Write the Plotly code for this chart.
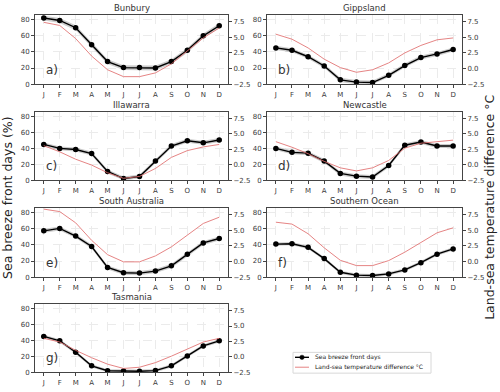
import plotly.graph_objects as go

months = ["J", "F", "M", "A", "M", "J", "J", "A", "S", "O", "N", "D"]
regions = ["Bunbury", "Gippsland", "Illawarra", "Newcastle",
           "South Australia", "Southern Ocean", "Tasmania"]
panel_labels = ["a)", "b)", "c)", "d)", "e)", "f)", "g)"]
legend_names = ["Sea breeze front days", "Land-sea temperature difference \u00b0C"]

# Sea breeze front days (%)
sbf_bunbury = [82, 79, 70, 49, 28, 20.5, 20.5, 20, 28, 42, 60, 72.5]
sbf_gippsland = [45, 42, 34, 22.5, 5.3, 2.5, 2, 11, 23, 33, 37.5, 43]
sbf_illawarra = [45, 40, 38.5, 33.5, 11, 2, 4.5, 24, 43, 49.5, 47, 50.5]
sbf_newcastle = [40, 35, 34, 24, 8.5, 5, 4, 18.5, 44, 48, 43, 43]
sbf_south_australia = [57.5, 60.5, 51, 38, 12, 5.5, 5, 7.5, 14, 28.5, 42.5, 48]
sbf_southern_ocean = [41, 41.5, 37, 23, 6, 2.5, 2, 4, 9, 18, 28.5, 35]
sbf_tasmania = [45, 39.5, 25, 8, 1.8, 1.6, 1.2, 2, 8, 20.5, 33, 39.5]

# Uncertainty half-width of the grey band (%)
sbf_spread = [3.0, 2.5, 2.5, 2.5, 2.5, 2.0, 2.0]

# Land-sea temperature difference (°C)
lst_bunbury = [7.4, 6.9, 4.8, 2.0, -0.2, -1.3, -1.3, -0.7, 0.75, 2.8, 4.9, 6.5]
lst_gippsland = [5.5, 4.7, 3.3, 1.5, 0.15, -0.6, -0.2, 0.9, 2.5, 3.7, 4.6, 4.9]
lst_illawarra = [3.1, 2.1, 0.9, -0.05, -1.3, -2.2, -1.9, -0.6, 1.2, 2.3, 2.9, 3.3]
lst_newcastle = [3.75, 2.85, 1.8, 0.55, -0.5, -1.0, -0.5, 0.7, 2.7, 3.5, 3.75, 4.0]
lst_south_australia = [8.4, 8.0, 6.2, 3.4, 1.1, -0.05, -0.05, 0.9, 2.35, 4.2, 6.1, 7.1]
lst_southern_ocean = [6.3, 6.0, 4.45, 2.2, 0.2, -0.65, -0.65, 0.15, 1.5, 3.1, 4.6, 5.4]
lst_tasmania = [3.0, 2.4, 1.05, -0.15, -1.2, -1.9, -1.7, -0.95, 0.1, 1.3, 2.4, 3.0]

sbf_all = [sbf_bunbury, sbf_gippsland, sbf_illawarra, sbf_newcastle,
           sbf_south_australia, sbf_southern_ocean, sbf_tasmania]
lst_all = [lst_bunbury, lst_gippsland, lst_illawarra, lst_newcastle,
           lst_south_australia, lst_southern_ocean, lst_tasmania]

left_ticks = [0, 20, 40, 60, 80]
right_ticks = [-2.5, 0.0, 2.5, 5.0, 7.5]
right_ticktext = ["\u22122.5", "0.0", "2.5", "5.0", "7.5"]

W, H = 500, 392
col_px = [(35, 228), (267, 462)]
row_px = [(15, 85), (113, 182), (210, 280), (307, 376)]

FONT = "DejaVu Sans"
GRID = "#ebebeb"
FRAME = "#444444"
TXT = "#3a3a3a"
RED = "rgba(225,110,110,0.85)"

fig = go.Figure()
layout = dict(
    width=W, height=H,
    margin=dict(l=0, r=0, t=0, b=0),
    paper_bgcolor="white", plot_bgcolor="white",
    font=dict(family=FONT, color=TXT, size=7),
    showlegend=False,
)
annotations = []
shapes = []
x = list(range(12))

for i in range(7):
    r, c = divmod(i, 2)
    n = i + 1
    xa = "x" if n == 1 else f"x{n}"
    yl_n = 2 * i + 1
    yr_n = 2 * i + 2
    yl = "y" if yl_n == 1 else f"y{yl_n}"
    yr = f"y{yr_n}"
    x0, x1 = col_px[c]
    top, bot = row_px[r]
    xdom = [x0 / W, x1 / W]
    ydom = [1 - bot / H, 1 - top / H]

    layout["xaxis" + ("" if n == 1 else str(n))] = dict(
        domain=xdom, anchor=yl, range=[-0.55, 11.55],
        tickvals=x, ticktext=months, ticks="outside", ticklen=3,
        tickcolor=FRAME, tickfont=dict(size=7, color=TXT),
        showgrid=True, gridcolor=GRID, griddash="dash", gridwidth=1,
        showline=True, linecolor=FRAME, linewidth=1, mirror=True,
        zeroline=False, fixedrange=True,
    )
    layout["yaxis" + ("" if yl_n == 1 else str(yl_n))] = dict(
        domain=ydom, anchor=xa, range=[0, 86],
        tickvals=left_ticks, ticks="outside", ticklen=3, tickcolor=FRAME,
        tickfont=dict(size=7, color=TXT),
        showgrid=True, gridcolor=GRID, griddash="dash", gridwidth=1,
        showline=True, linecolor=FRAME, linewidth=1, mirror=True,
        zeroline=False,
    )
    layout[f"yaxis{yr_n}"] = dict(
        overlaying=yl, anchor=xa, side="right", range=[-2.5, 8.6],
        tickvals=right_ticks, ticktext=right_ticktext,
        ticks="outside", ticklen=3, tickcolor=FRAME,
        tickfont=dict(size=7, color=TXT),
        showgrid=False, zeroline=False, showline=False,
    )

    sbf = sbf_all[i]
    s = sbf_spread[i]
    upper = [v + s for v in sbf]
    lower = [max(v - s, 0) for v in sbf]
    fig.add_trace(go.Scatter(x=x, y=upper, xaxis=xa, yaxis=yl, mode="lines",
                             line=dict(width=0, color="rgba(0,0,0,0)"),
                             showlegend=False, hoverinfo="skip"))
    fig.add_trace(go.Scatter(x=x, y=lower, xaxis=xa, yaxis=yl, mode="lines",
                             line=dict(width=0, color="rgba(0,0,0,0)"),
                             fill="tonexty", fillcolor="rgba(0,0,0,0.2)",
                             showlegend=False, hoverinfo="skip"))
    fig.add_trace(go.Scatter(x=x, y=sbf, xaxis=xa, yaxis=yl, mode="lines+markers",
                             line=dict(color="black", width=1.4),
                             marker=dict(color="black", size=5.5),
                             name=legend_names[0], showlegend=False))
    fig.add_trace(go.Scatter(x=x, y=lst_all[i], xaxis=xa, yaxis=yr, mode="lines",
                             line=dict(color=RED, width=1),
                             name=legend_names[1], showlegend=False))

    annotations.append(dict(text=regions[i], xref=f"{xa} domain", yref=f"{yl} domain",
                            x=0.5, y=1, xanchor="center", yanchor="bottom", yshift=0,
                            showarrow=False, font=dict(size=8.5, color="#333", family=FONT)))
    annotations.append(dict(text=panel_labels[i], xref=f"{xa} domain", yref=f"{yl} domain",
                            x=0.045, y=0.07, xanchor="left", yanchor="bottom",
                            showarrow=False, font=dict(size=12, color="#333", family=FONT)))

annotations.append(dict(text="Sea breeze front days (%)", xref="paper", yref="paper",
                        x=8 / W, y=1 - 200 / H, textangle=-90, showarrow=False,
                        xanchor="center", yanchor="middle",
                        font=dict(size=12.5, color="#222", family=FONT)))
annotations.append(dict(text="Land-sea temperature difference \u00b0C", xref="paper", yref="paper",
                        x=490 / W, y=1 - 210 / H, textangle=-90, showarrow=False,
                        xanchor="center", yanchor="middle",
                        font=dict(size=12.5, color="#222", family=FONT)))

# Legend box (drawn in paper pixels)
def px(xp, yp):
    return xp / W, 1 - yp / H

lx0, ly0 = px(293, 356)
lx1, ly1 = px(431, 377)
shapes.append(dict(type="rect", xref="paper", yref="paper", x0=lx0, y0=ly1, x1=lx1, y1=ly0,
                   line=dict(color="#d8d8d8", width=1), fillcolor="white", layer="above"))
sx0, sy1 = px(295, 361)
sx1, _ = px(309, 361)
shapes.append(dict(type="line", xref="paper", yref="paper", x0=sx0, x1=sx1, y0=sy1, y1=sy1,
                   line=dict(color="black", width=1.4), layer="above"))
cx0, cy0 = px(299.8, 358.8)
cx1, cy1 = px(304.2, 363.2)
shapes.append(dict(type="circle", xref="paper", yref="paper", x0=cx0, x1=cx1, y0=cy1, y1=cy0,
                   line=dict(color="black", width=0.5), fillcolor="black", layer="above"))
_, sy2 = px(0, 371)
shapes.append(dict(type="line", xref="paper", yref="paper", x0=sx0, x1=sx1, y0=sy2, y1=sy2,
                   line=dict(color=RED, width=1), layer="above"))
tx, _ = px(313, 0)
for name, ty in zip(legend_names, [sy1, sy2]):
    annotations.append(dict(text=name, xref="paper", yref="paper", x=tx, y=ty,
                            xanchor="left", yanchor="middle", showarrow=False,
                            font=dict(size=6, color="#222", family=FONT)))

layout["annotations"] = annotations
layout["shapes"] = shapes
fig.update_layout(**layout)
fig.write_html("out.html")
